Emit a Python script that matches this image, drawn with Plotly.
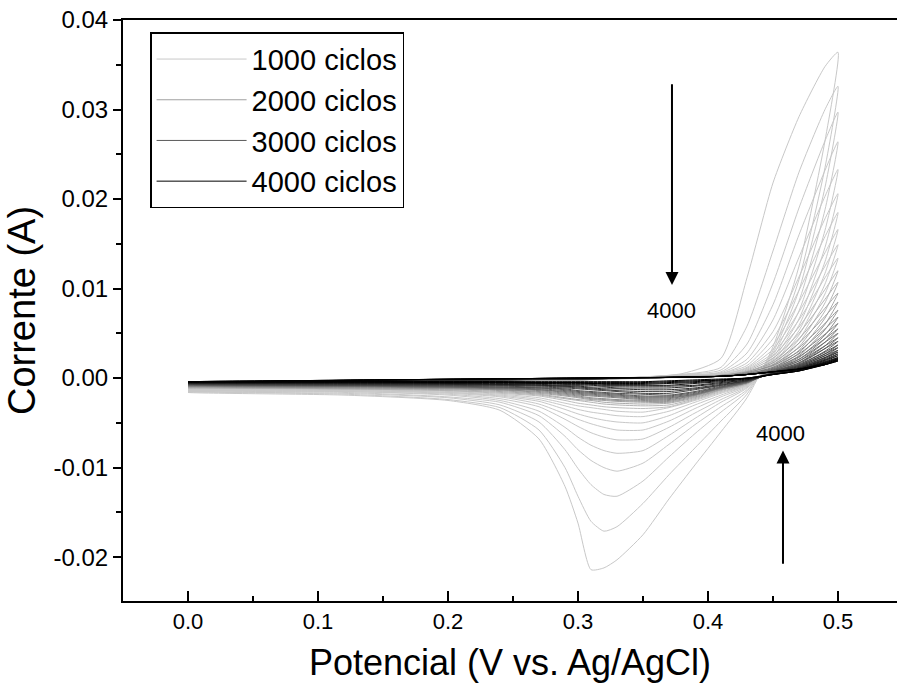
import plotly.graph_objects as go

# Potential grids (V vs Ag/AgCl)
potential_forward = [0.00, 0.15, 0.30, 0.38, 0.41, 0.43, 0.45, 0.47, 0.49, 0.50]
potential_reverse = [0.49, 0.47, 0.45, 0.43, 0.41, 0.39, 0.37, 0.35, 0.33, 0.32,
                     0.31, 0.30, 0.29, 0.27, 0.24, 0.20, 0.12, 0.00]

# Current (A) on forward scan, one row per cycle curve (from first to last)
current_forward = [
    [-0.0016, -0.0008, -0.0002, 0.0005, 0.0022, 0.0112, 0.0218, 0.0292, 0.0348, 0.0364],
    [-0.0015, -0.0008, -0.0002, 0.0004, 0.0012, 0.0058, 0.0142, 0.0230, 0.0300, 0.0326],
    [-0.0015, -0.0007, -0.0002, 0.0004, 0.0009, 0.0038, 0.0106, 0.0190, 0.0265, 0.0297],
    [-0.0014, -0.0007, -0.0002, 0.0003, 0.0007, 0.0028, 0.0082, 0.0160, 0.0232, 0.0264],
    [-0.0014, -0.0007, -0.0002, 0.0003, 0.0006, 0.0021, 0.0065, 0.0135, 0.0203, 0.0233],
    [-0.0013, -0.0006, -0.0002, 0.0003, 0.0005, 0.0017, 0.0052, 0.0113, 0.0178, 0.0206],
    [-0.0013, -0.0006, -0.0002, 0.0003, 0.0005, 0.0014, 0.0044, 0.0098, 0.0158, 0.0185],
    [-0.0012, -0.0006, -0.0002, 0.0002, 0.0004, 0.0012, 0.0037, 0.0085, 0.0140, 0.0166],
    [-0.0012, -0.0006, -0.0002, 0.0002, 0.0004, 0.0011, 0.0032, 0.0074, 0.0125, 0.0149],
    [-0.0011, -0.0005, -0.0002, 0.0002, 0.0004, 0.0010, 0.0028, 0.0065, 0.0112, 0.0134],
    [-0.0011, -0.0005, -0.0002, 0.0002, 0.0003, 0.0009, 0.0025, 0.0057, 0.0099, 0.0120],
    [-0.0011, -0.0005, -0.0002, 0.0002, 0.0003, 0.0008, 0.0022, 0.0050, 0.0088, 0.0107],
    [-0.0010, -0.0005, -0.0002, 0.0001, 0.0003, 0.0007, 0.0019, 0.0044, 0.0078, 0.0095],
    [-0.0010, -0.0005, -0.0001, 0.0001, 0.0003, 0.0007, 0.0017, 0.0039, 0.0069, 0.0085],
    [-0.0009, -0.0004, -0.0001, 0.0001, 0.0003, 0.0006, 0.0015, 0.0034, 0.0061, 0.0076],
    [-0.0009, -0.0004, -0.0001, 0.0001, 0.0002, 0.0006, 0.0014, 0.0030, 0.0055, 0.0068],
    [-0.0009, -0.0004, -0.0001, 0.0001, 0.0002, 0.0005, 0.0012, 0.0027, 0.0049, 0.0061],
    [-0.0008, -0.0004, -0.0001, 0.0001, 0.0002, 0.0005, 0.0011, 0.0024, 0.0044, 0.0055],
    [-0.0008, -0.0004, -0.0001, 0.0001, 0.0002, 0.0004, 0.0010, 0.0021, 0.0040, 0.0050],
    [-0.0008, -0.0003, -0.0001, 0.0001, 0.0002, 0.0004, 0.0009, 0.0019, 0.0036, 0.0045],
    [-0.0007, -0.0003, -0.0001, 0.0001, 0.0002, 0.0004, 0.0008, 0.0017, 0.0033, 0.0041],
    [-0.0007, -0.0003, -0.0001, 0.0001, 0.0002, 0.0004, 0.0008, 0.0015, 0.0029, 0.0037],
    [-0.0007, -0.0003, -0.0001, 0.0001, 0.0002, 0.0004, 0.0007, 0.0014, 0.0027, 0.0034],
    [-0.0006, -0.0003, -0.0001, 0.0001, 0.0002, 0.0004, 0.0007, 0.0013, 0.0025, 0.0031],
    [-0.0006, -0.0003, -0.0001, 0.0001, 0.0002, 0.0004, 0.0007, 0.0012, 0.0023, 0.0029],
    [-0.0006, -0.0003, -0.0001, 0.0001, 0.0002, 0.0004, 0.0007, 0.0011, 0.0021, 0.0027],
    [-0.0005, -0.0002, 0.0000, 0.0001, 0.0002, 0.0004, 0.0007, 0.0011, 0.0020, 0.0025],
    [-0.0005, -0.0002, 0.0000, 0.0001, 0.0002, 0.0004, 0.0007, 0.0010, 0.0018, 0.0023],
    [-0.0005, -0.0002, 0.0000, 0.0001, 0.0002, 0.0004, 0.0007, 0.0010, 0.0017, 0.0022],
    [-0.0004, -0.0002, 0.0000, 0.0001, 0.0002, 0.0004, 0.0007, 0.0010, 0.0016, 0.0021],
    [-0.0004, -0.0002, 0.0000, 0.0001, 0.0002, 0.0004, 0.0007, 0.0010, 0.0015, 0.0020],
    [-0.0004, -0.0002, 0.0000, 0.0001, 0.0002, 0.0004, 0.0007, 0.0010, 0.0015, 0.0019],
]

# Current (A) on reverse scan, one row per cycle curve
current_reverse = [
    [0.0265, 0.0125, 0.0035, -0.0022, -0.0060, -0.0097, -0.0135, -0.0175, -0.0203, -0.0212, -0.0214, -0.0162, -0.0121, -0.0068, -0.0036, -0.0025, -0.0019, -0.0016],
    [0.0235, 0.0110, 0.0031, -0.0018, -0.0048, -0.0078, -0.0108, -0.0140, -0.0166, -0.0171, -0.0160, -0.0132, -0.0100, -0.0058, -0.0033, -0.0024, -0.0018, -0.0015],
    [0.0213, 0.0098, 0.0028, -0.0015, -0.0038, -0.0062, -0.0088, -0.0115, -0.0132, -0.0130, -0.0119, -0.0101, -0.0080, -0.0049, -0.0030, -0.0022, -0.0017, -0.0015],
    [0.0188, 0.0086, 0.0025, -0.0013, -0.0032, -0.0052, -0.0074, -0.0095, -0.0104, -0.0100, -0.0092, -0.0080, -0.0065, -0.0042, -0.0027, -0.0021, -0.0016, -0.0014],
    [0.0165, 0.0075, 0.0022, -0.0011, -0.0027, -0.0045, -0.0064, -0.0081, -0.0084, -0.0081, -0.0075, -0.0066, -0.0055, -0.0037, -0.0025, -0.0019, -0.0015, -0.0014],
    [0.0146, 0.0066, 0.0020, -0.0010, -0.0024, -0.0039, -0.0055, -0.0068, -0.0069, -0.0066, -0.0061, -0.0054, -0.0046, -0.0032, -0.0023, -0.0018, -0.0015, -0.0013],
    [0.0130, 0.0059, 0.0018, -0.0009, -0.0021, -0.0034, -0.0048, -0.0058, -0.0058, -0.0055, -0.0051, -0.0046, -0.0040, -0.0029, -0.0021, -0.0017, -0.0014, -0.0013],
    [0.0117, 0.0053, 0.0016, -0.0008, -0.0019, -0.0030, -0.0042, -0.0050, -0.0049, -0.0047, -0.0044, -0.0040, -0.0035, -0.0026, -0.0020, -0.0016, -0.0014, -0.0012],
    [0.0105, 0.0048, 0.0015, -0.0008, -0.0017, -0.0027, -0.0037, -0.0043, -0.0042, -0.0040, -0.0038, -0.0035, -0.0031, -0.0024, -0.0019, -0.0016, -0.0013, -0.0012],
    [0.0094, 0.0043, 0.0014, -0.0007, -0.0016, -0.0025, -0.0033, -0.0038, -0.0037, -0.0035, -0.0033, -0.0031, -0.0028, -0.0022, -0.0018, -0.0015, -0.0013, -0.0011],
    [0.0084, 0.0039, 0.0013, -0.0007, -0.0015, -0.0024, -0.0032, -0.0034, -0.0033, -0.0032, -0.0030, -0.0028, -0.0025, -0.0020, -0.0017, -0.0014, -0.0012, -0.0011],
    [0.0075, 0.0035, 0.0012, -0.0006, -0.0014, -0.0023, -0.0030, -0.0031, -0.0030, -0.0029, -0.0027, -0.0025, -0.0023, -0.0019, -0.0016, -0.0014, -0.0012, -0.0011],
    [0.0067, 0.0031, 0.0011, -0.0006, -0.0013, -0.0022, -0.0028, -0.0029, -0.0028, -0.0027, -0.0025, -0.0024, -0.0022, -0.0018, -0.0015, -0.0013, -0.0012, -0.0010],
    [0.0060, 0.0028, 0.0010, -0.0006, -0.0013, -0.0021, -0.0027, -0.0027, -0.0026, -0.0025, -0.0024, -0.0022, -0.0020, -0.0017, -0.0014, -0.0012, -0.0011, -0.0010],
    [0.0054, 0.0025, 0.0009, -0.0005, -0.0012, -0.0020, -0.0026, -0.0026, -0.0025, -0.0024, -0.0023, -0.0021, -0.0019, -0.0016, -0.0013, -0.0012, -0.0011, -0.0009],
    [0.0048, 0.0023, 0.0009, -0.0005, -0.0012, -0.0019, -0.0025, -0.0025, -0.0024, -0.0023, -0.0022, -0.0020, -0.0018, -0.0015, -0.0013, -0.0011, -0.0010, -0.0009],
    [0.0044, 0.0021, 0.0008, -0.0005, -0.0011, -0.0019, -0.0024, -0.0024, -0.0022, -0.0021, -0.0020, -0.0019, -0.0017, -0.0014, -0.0012, -0.0011, -0.0010, -0.0009],
    [0.0040, 0.0019, 0.0008, -0.0005, -0.0011, -0.0018, -0.0023, -0.0023, -0.0021, -0.0020, -0.0019, -0.0018, -0.0016, -0.0013, -0.0012, -0.0010, -0.0009, -0.0008],
    [0.0036, 0.0017, 0.0007, -0.0005, -0.0011, -0.0018, -0.0022, -0.0022, -0.0020, -0.0019, -0.0018, -0.0017, -0.0015, -0.0013, -0.0011, -0.0010, -0.0009, -0.0008],
    [0.0033, 0.0016, 0.0007, -0.0004, -0.0010, -0.0017, -0.0021, -0.0021, -0.0019, -0.0018, -0.0017, -0.0016, -0.0014, -0.0012, -0.0011, -0.0010, -0.0009, -0.0008],
    [0.0030, 0.0015, 0.0006, -0.0004, -0.0010, -0.0016, -0.0020, -0.0020, -0.0018, -0.0017, -0.0016, -0.0015, -0.0013, -0.0011, -0.0010, -0.0009, -0.0008, -0.0007],
    [0.0027, 0.0014, 0.0006, -0.0004, -0.0009, -0.0015, -0.0019, -0.0018, -0.0017, -0.0016, -0.0015, -0.0014, -0.0012, -0.0011, -0.0010, -0.0009, -0.0008, -0.0007],
    [0.0025, 0.0013, 0.0006, -0.0003, -0.0008, -0.0013, -0.0017, -0.0017, -0.0015, -0.0014, -0.0013, -0.0012, -0.0011, -0.0010, -0.0009, -0.0008, -0.0008, -0.0007],
    [0.0023, 0.0012, 0.0005, -0.0003, -0.0008, -0.0012, -0.0015, -0.0015, -0.0014, -0.0013, -0.0012, -0.0011, -0.0010, -0.0009, -0.0008, -0.0008, -0.0007, -0.0006],
    [0.0022, 0.0011, 0.0005, -0.0003, -0.0007, -0.0011, -0.0013, -0.0013, -0.0012, -0.0012, -0.0011, -0.0010, -0.0009, -0.0008, -0.0008, -0.0007, -0.0007, -0.0006],
    [0.0020, 0.0010, 0.0005, -0.0002, -0.0006, -0.0009, -0.0011, -0.0011, -0.0011, -0.0010, -0.0010, -0.0009, -0.0009, -0.0008, -0.0007, -0.0007, -0.0006, -0.0006],
    [0.0019, 0.0010, 0.0005, -0.0002, -0.0005, -0.0008, -0.0009, -0.0009, -0.0009, -0.0009, -0.0008, -0.0008, -0.0008, -0.0007, -0.0007, -0.0006, -0.0006, -0.0005],
    [0.0018, 0.0009, 0.0004, -0.0001, -0.0004, -0.0006, -0.0008, -0.0008, -0.0008, -0.0008, -0.0007, -0.0007, -0.0007, -0.0006, -0.0006, -0.0006, -0.0005, -0.0005],
    [0.0017, 0.0009, 0.0004, -0.0001, -0.0003, -0.0005, -0.0006, -0.0007, -0.0007, -0.0007, -0.0006, -0.0006, -0.0006, -0.0006, -0.0005, -0.0005, -0.0005, -0.0005],
    [0.0016, 0.0008, 0.0004, 0.0000, -0.0002, -0.0004, -0.0005, -0.0006, -0.0006, -0.0006, -0.0006, -0.0005, -0.0005, -0.0005, -0.0005, -0.0005, -0.0004, -0.0004],
    [0.0015, 0.0008, 0.0004, 0.0000, -0.0002, -0.0003, -0.0004, -0.0005, -0.0005, -0.0005, -0.0005, -0.0005, -0.0005, -0.0005, -0.0004, -0.0004, -0.0004, -0.0004],
    [0.0015, 0.0008, 0.0004, 0.0000, -0.0001, -0.0002, -0.0003, -0.0004, -0.0004, -0.0004, -0.0004, -0.0004, -0.0004, -0.0004, -0.0004, -0.0004, -0.0004, -0.0004],
]

# Legend group (cycle block) of each curve
legend_names = ["1000 ciclos", "2000 ciclos", "3000 ciclos", "4000 ciclos"]
curve_group = [0] * 10 + [1] * 8 + [2] * 7 + [3] * 7
legend_curve = [0, 13, 20, 31]

# styles
gray_levels = [200] * 10 + [190, 180, 170, 160, 150, 140, 130, 120, 110, 100, 90,
                            80, 70, 60, 50, 40, 30, 20, 10, 0, 0, 0]

x_tickvals = [0.0, 0.1, 0.2, 0.3, 0.4, 0.5]
x_ticktext = ["0.0", "0.1", "0.2", "0.3", "0.4", "0.5"]
y_tickvals = [-0.02, -0.01, 0.00, 0.01, 0.02, 0.03, 0.04]
y_ticktext = ["-0.02", "-0.01", "0.00", "0.01", "0.02", "0.03", "0.04"]

FONT = "Liberation Sans, Arial, sans-serif"

fig = go.Figure()
for k in range(len(current_forward)):
    g = gray_levels[k]
    grp = curve_group[k]
    fig.add_trace(go.Scatter(
        x=potential_forward + potential_reverse,
        y=current_forward[k] + current_reverse[k],
        mode="lines",
        line=dict(color=f"rgb({g},{g},{g})", width=1, shape="spline", smoothing=0.6),
        name=legend_names[grp],
        legendgroup=legend_names[grp],
        showlegend=(k in legend_curve),
        hoverinfo="skip",
    ))

fig.update_layout(
    width=897, height=696,
    margin=dict(l=123, r=0, t=20, b=95),
    paper_bgcolor="white", plot_bgcolor="white",
    font=dict(family=FONT, color="black"),
    showlegend=True,
    legend=dict(
        x=0.035, y=0.979, xanchor="left", yanchor="top",
        bordercolor="black", borderwidth=1.5, bgcolor="white",
        font=dict(size=29, family=FONT, color="black"),
        itemwidth=90, tracegroupgap=0,
    ),
    xaxis=dict(
        range=[-0.05, 0.5454], showgrid=False, zeroline=False,
        showline=True, linecolor="black", linewidth=2, mirror=True,
        ticks="inside", ticklen=10, tickwidth=2, tickcolor="black",
        tickvals=x_tickvals, ticktext=x_ticktext,
        tickfont=dict(size=22, family=FONT),
        minor=dict(ticks="inside", ticklen=5, tickwidth=2, tickcolor="black", dtick=0.05, tick0=0),
        title=dict(text="Potencial (V vs. Ag/AgCl)", font=dict(size=36, family=FONT), standoff=16),
    ),
    yaxis=dict(
        range=[-0.0249, 0.04], showgrid=False, zeroline=False,
        showline=True, linecolor="black", linewidth=2,
        ticks="outside", ticklen=8, tickwidth=2, tickcolor="black",
        tickvals=y_tickvals, ticktext=y_ticktext,
        tickfont=dict(size=24, family=FONT),
        minor=dict(ticks="outside", ticklen=5, tickwidth=2, tickcolor="black", dtick=0.005, tick0=0),
        title=dict(text="Corrente (A)", font=dict(size=38, family=FONT), standoff=6),
    ),
)

fig.add_annotation(x=0.3723, y=0.0104, ax=0.3723, ay=0.033, xref="x", yref="y",
                   axref="x", ayref="y", text="", showarrow=True,
                   arrowhead=2, arrowsize=1.3, arrowwidth=2, arrowcolor="black")
fig.add_annotation(x=0.3723, y=0.0076, xref="x", yref="y", text="4000",
                   showarrow=False, font=dict(size=22, family=FONT))
fig.add_annotation(x=0.4577, y=-0.0081, ax=0.4577, ay=-0.0209, xref="x", yref="y",
                   axref="x", ayref="y", text="", showarrow=True,
                   arrowhead=2, arrowsize=1.3, arrowwidth=2, arrowcolor="black")
fig.add_annotation(x=0.4554, y=-0.0062, xref="x", yref="y", text="4000",
                   showarrow=False, font=dict(size=22, family=FONT))

fig.write_html("out.html")
